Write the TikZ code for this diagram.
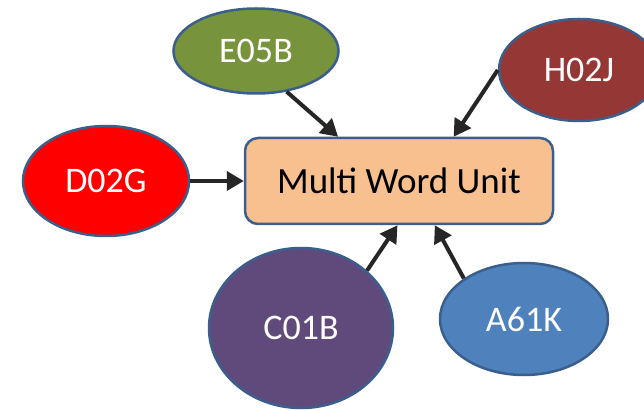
\documentclass[tikz,border=0pt]{standalone}
\usepackage{fontspec}
\setmainfont{Carlito}
\usetikzlibrary{shapes.geometric,arrows.meta}

\definecolor{edgeblue}{HTML}{3A5F8C}
\definecolor{unitfill}{HTML}{F9C08F}
\definecolor{linkgray}{HTML}{262626}
\definecolor{olive}{HTML}{77933C}
\definecolor{brick}{HTML}{953735}
\definecolor{plum}{HTML}{604A7B}
\definecolor{steel}{HTML}{4F81BD}

\begin{document}
\begin{tikzpicture}[x=1pt,y=-1pt,
  code/.style={ellipse,draw=edgeblue,line width=2.5pt,inner sep=0pt,
    text=white,font=\fontsize{36}{40}\selectfont},
  unit/.style={rectangle,rounded corners=13pt,draw=edgeblue,line width=2.5pt,
    fill=unitfill,minimum width=308pt,minimum height=86pt,
    font=\fontsize{37}{40}\selectfont},
  link/.style={draw=linkgray,line width=4pt,-{Triangle[length=17pt,width=19pt]}}]
\useasboundingbox (0,0) rectangle (644,411);
\clip (0,0) rectangle (644,411);

\node[unit] (mwu) at (399,181) {Multi Word Unit};

\node[code,fill=olive,minimum width=165pt,minimum height=85pt] (e05b) at (256,51) {E05B};
\node[code,fill=brick,minimum width=160pt,minimum height=102pt] (h02j) at (579,70) {H02J};
\node[code,fill=red,minimum width=166pt,minimum height=110pt] (d02g) at (106,181) {D02G};
\node[code,fill=plum,minimum width=184pt,minimum height=160pt] (c01b) at (301,328) {C01B};
\node[code,fill=steel,minimum width=168pt,minimum height=112pt] (a61k) at (524,319) {A61K};

\draw[link] (e05b.-53) -- (mwu.144);
\draw[link] (h02j.west) -- (mwu.39);
\draw[link] (d02g) -- (mwu);
\draw[link] (c01b.41) -- (mwu.-92);
\draw[link] (a61k.146) -- (mwu.-51);
\end{tikzpicture}
\end{document}
